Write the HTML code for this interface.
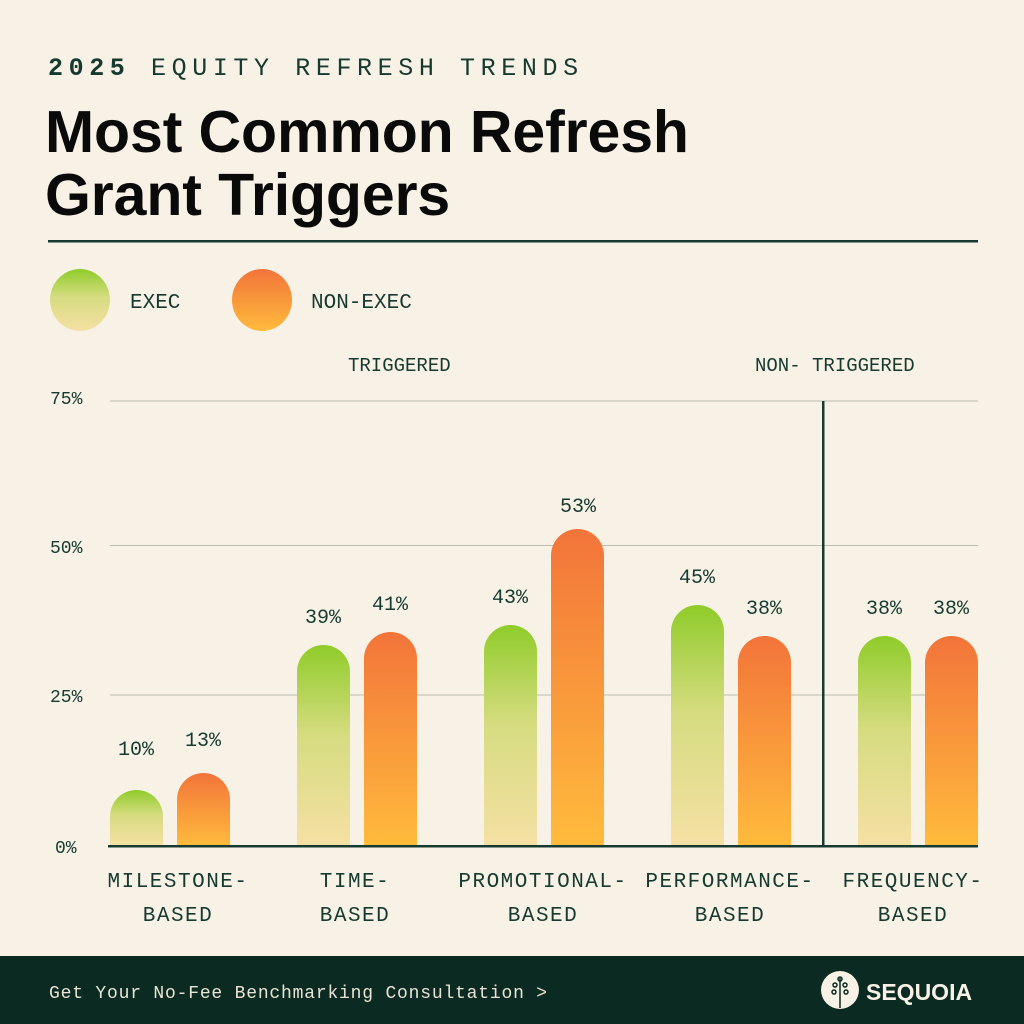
<!DOCTYPE html>
<html><head><meta charset="utf-8"><style>
html,body{margin:0;padding:0;background:#f8f2e6;}
svg{display:block}
.m{font-family:"Liberation Mono",monospace;fill:#173a30}
</style></head><body>
<svg width="1024" height="1024" viewBox="0 0 1024 1024" xmlns="http://www.w3.org/2000/svg">
<defs>
<linearGradient id="g" x1="0" y1="0" x2="0" y2="1"><stop offset="0" stop-color="#8fcc2a"/><stop offset="0.45" stop-color="#d6dc80"/><stop offset="1" stop-color="#f5e0a4"/></linearGradient>
<linearGradient id="o" x1="0" y1="0" x2="0" y2="1"><stop offset="0" stop-color="#f2743a"/><stop offset="1" stop-color="#ffbb3c"/></linearGradient>
</defs>
<rect width="1024" height="1024" fill="#f8f2e6"/>
<text x="48" y="75" class="m" font-size="25" letter-spacing="5.6"><tspan font-weight="bold">2025</tspan> EQUITY REFRESH TRENDS</text>
<text x="45" y="152" font-family="Liberation Sans,sans-serif" font-weight="bold" font-size="59" fill="#0a0a0a" letter-spacing="-0.1">Most Common Refresh</text>
<text x="45" y="215" font-family="Liberation Sans,sans-serif" font-weight="bold" font-size="59" fill="#0a0a0a" letter-spacing="-0.1">Grant Triggers</text>
<rect x="48" y="240" width="930" height="2.5" fill="#173a30"/>
<ellipse cx="80" cy="300" rx="30" ry="31" fill="url(#g)"/>
<text x="130" y="308" class="m" font-size="21">EXEC</text>
<ellipse cx="262" cy="300" rx="30" ry="31" fill="url(#o)"/>
<text x="311" y="308" class="m" font-size="21">NON-EXEC</text>
<text x="348" y="371" class="m" font-size="19">TRIGGERED</text>
<text x="755" y="371" class="m" font-size="19">NON- TRIGGERED</text>
<g stroke="#b9bcae" stroke-width="1">
<line x1="110" y1="401" x2="978" y2="401"/><line x1="110" y1="545.5" x2="978" y2="545.5"/><line x1="110" y1="695" x2="978" y2="695"/>
</g>
<g class="m" font-size="18">
<text x="50" y="404">75%</text><text x="50" y="553">50%</text><text x="50" y="702">25%</text><text x="55" y="853">0%</text>
</g>
<rect x="822" y="401" width="2.5" height="445" fill="#173a30"/>
<g>
<path d="M110 846V816.5A26.5 26.5 0 0 1 163 816.5V846Z" fill="url(#g)"/>
<path d="M177 846V799.5A26.5 26.5 0 0 1 230 799.5V846Z" fill="url(#o)"/>
<path d="M297 846V671.5A26.5 26.5 0 0 1 350 671.5V846Z" fill="url(#g)"/>
<path d="M364 846V658.5A26.5 26.5 0 0 1 417 658.5V846Z" fill="url(#o)"/>
<path d="M484 846V651.5A26.5 26.5 0 0 1 537 651.5V846Z" fill="url(#g)"/>
<path d="M551 846V555.5A26.5 26.5 0 0 1 604 555.5V846Z" fill="url(#o)"/>
<path d="M671 846V631.5A26.5 26.5 0 0 1 724 631.5V846Z" fill="url(#g)"/>
<path d="M738 846V662.5A26.5 26.5 0 0 1 791 662.5V846Z" fill="url(#o)"/>
<path d="M858 846V662.5A26.5 26.5 0 0 1 911 662.5V846Z" fill="url(#g)"/>
<path d="M925 846V662.5A26.5 26.5 0 0 1 978 662.5V846Z" fill="url(#o)"/>
</g>
<rect x="108" y="845" width="870" height="2.5" fill="#173a30"/>
<g class="m" font-size="20" text-anchor="middle">
<text x="136" y="755">10%</text><text x="203" y="746">13%</text>
<text x="323" y="623">39%</text><text x="390" y="610">41%</text>
<text x="510" y="603">43%</text><text x="578" y="512">53%</text>
<text x="697" y="583">45%</text><text x="764" y="614">38%</text>
<text x="884" y="614">38%</text><text x="951" y="614">38%</text>
</g>
<g class="m" font-size="21" text-anchor="middle" letter-spacing="1.5">
<text x="178" y="887">MILESTONE-</text><text x="178" y="921">BASED</text>
<text x="355" y="887">TIME-</text><text x="355" y="921">BASED</text>
<text x="543" y="887">PROMOTIONAL-</text><text x="543" y="921">BASED</text>
<text x="730" y="887">PERFORMANCE-</text><text x="730" y="921">BASED</text>
<text x="913" y="887">FREQUENCY-</text><text x="913" y="921">BASED</text>
</g>
<rect x="0" y="956" width="1024" height="68" fill="#0b2a22"/>
<text x="49" y="998" font-family="Liberation Mono,monospace" font-size="18" fill="#e9e4d4" letter-spacing="0.8">Get Your No-Fee Benchmarking Consultation &gt;</text>
<circle cx="840" cy="990" r="19" fill="#f8f2e6"/>
<g stroke="#0b2a22" stroke-width="1.5" fill="none">
<line x1="840" y1="978" x2="840" y2="1008"/>
<circle cx="840" cy="979" r="2"/><circle cx="835" cy="985" r="2"/><circle cx="845" cy="985" r="2"/><circle cx="834" cy="992" r="2"/><circle cx="846" cy="992" r="2"/>
</g>
<text x="866" y="1000" font-family="Liberation Sans,sans-serif" font-weight="bold" font-size="23" fill="#f8f2e6">SEQUOIA</text>
</svg>
</body></html>
